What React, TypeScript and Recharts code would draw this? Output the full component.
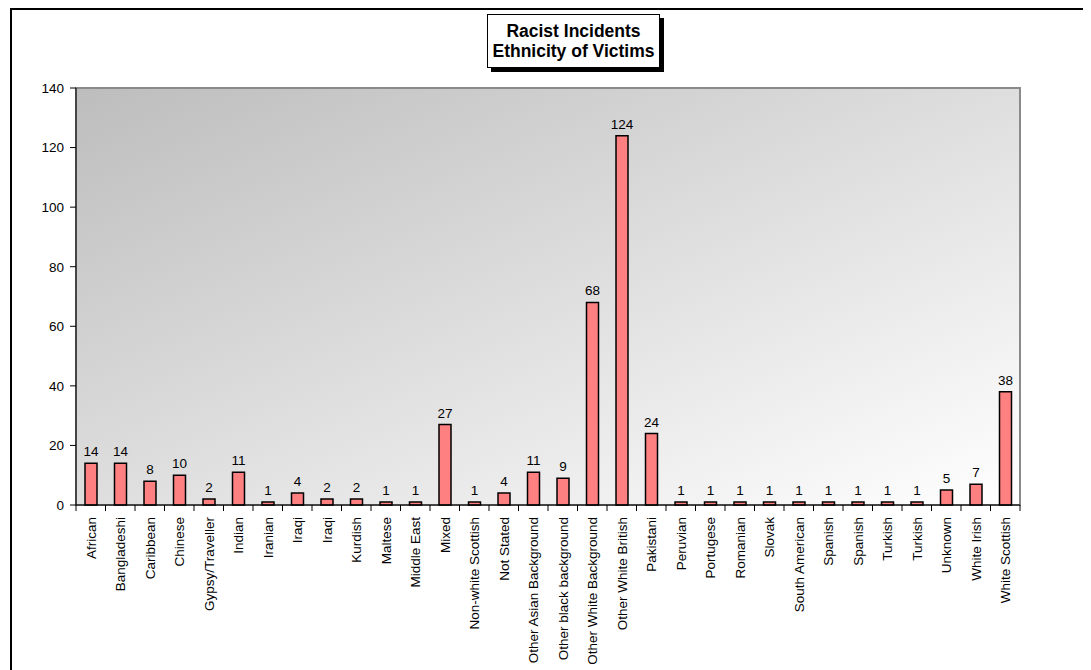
import { BarChart, Bar, XAxis, YAxis, CartesianGrid, LabelList, ReferenceArea } from 'recharts';

// Ethnicity categories (duplicates appear in the source table as-is)
const categories = [
  'African', 'Bangladeshi', 'Caribbean', 'Chinese', 'Gypsy/Traveller', 'Indian', 'Iranian', 'Iraqi',
  'Iraqi', 'Kurdish', 'Maltese', 'Middle East', 'Mixed', 'Non-white Scottish', 'Not Stated',
  'Other Asian Background', 'Other black background', 'Other White Background', 'Other White British',
  'Pakistani', 'Peruvian', 'Portugese', 'Romanian', 'Slovak', 'South American', 'Spanish', 'Spanish',
  'Turkish', 'Turkish', 'Unknown', 'White Irish', 'White Scottish',
];

const incidents = [
  14, 14, 8, 10, 2, 11, 1, 4, 2, 2, 1, 1, 27, 1, 4, 11, 9, 68, 124, 24, 1, 1, 1, 1, 1, 1, 1, 1, 1, 5, 7, 38,
];

const yTicks = [0, 20, 40, 60, 80, 100, 120, 140];

const data = categories.map((name, i) => ({ name, value: incidents[i] }));

const FONT = "Arial, 'Liberation Sans', sans-serif";
const FONT_SIZE = 13.5;
const CHART_W = 1083;
const CHART_H = 662;
const MARGIN = { top: 80, right: 71, left: 0, bottom: 0 };
const Y_AXIS_W = 68;
const PLOT_W = CHART_W - MARGIN.left - MARGIN.right - Y_AXIS_W;
const BAND = PLOT_W / categories.length;

// Excel-style category tick: marks sit between categories, label rotated
const CategoryTick = (props: any) => {
  const { x, y, payload, index } = props;
  const axisY = y - 6;
  const left = x - BAND / 2;
  const right = x + BAND / 2;
  const isLast = index === categories.length - 1;
  return (
    <g>
      <line x1={left} y1={axisY} x2={left} y2={axisY + 6} stroke="#000" strokeWidth={1} />
      {isLast && <line x1={right} y1={axisY} x2={right} y2={axisY + 6} stroke="#000" strokeWidth={1} />}
      <text
        transform={`translate(${x + 5}, ${axisY + 12}) rotate(-90)`}
        textAnchor="end"
        fontSize={FONT_SIZE}
        fontFamily={FONT}
        fill="#000"
      >
        {payload.value}
      </text>
    </g>
  );
};

export default function App() {
  return (
    <div style={{ position: 'relative', width: CHART_W, height: CHART_H, overflow: 'hidden', fontFamily: FONT }}>
      <div
        style={{
          position: 'absolute',
          left: 2,
          top: 0,
          width: 1200,
          height: 800,
          borderTop: '2px solid #000',
          borderLeft: '2px solid #000',
        }}
      />
      <BarChart width={CHART_W} height={CHART_H} data={data} margin={MARGIN} barSize={12}>
        <defs>
          <linearGradient id="plotBg" x1="0" y1="0" x2="1" y2="1">
            <stop offset="0%" stopColor="#bdbdbd" />
            <stop offset="100%" stopColor="#ffffff" />
          </linearGradient>
        </defs>
        <CartesianGrid horizontal={false} vertical={false} fill="url(#plotBg)" />
        <ReferenceArea y1={0} y2={140} fill="none" stroke="#8a8a8a" strokeWidth={2} ifOverflow="visible" />
        <XAxis
          dataKey="name"
          interval={0}
          height={165}
          tickLine={false}
          tickSize={6}
          tickMargin={0}
          axisLine={{ stroke: '#000', strokeWidth: 1 }}
          tick={<CategoryTick />}
        />
        <YAxis
          width={Y_AXIS_W}
          domain={[0, 140]}
          ticks={yTicks}
          interval={0}
          tickSize={6}
          tickMargin={6}
          axisLine={{ stroke: '#000', strokeWidth: 1 }}
          tickLine={{ stroke: '#000' }}
          tick={{ fontSize: FONT_SIZE, fontFamily: FONT, fill: '#000' }}
        />
        <Bar dataKey="value" fill="#ff8080" stroke="#000" strokeWidth={1.5} isAnimationActive={false}>
          <LabelList dataKey="value" position="top" offset={7} fontSize={FONT_SIZE} fontFamily={FONT} fill="#000" />
        </Bar>
      </BarChart>
      <div
        style={{
          position: 'absolute',
          left: 479,
          top: 6,
          width: 173,
          height: 54,
          border: '1px solid #000',
          boxShadow: '4px 4px 0 #000',
          background: '#fff',
          textAlign: 'center',
          fontWeight: 'bold',
          fontSize: 17.5,
          lineHeight: '20px',
          paddingTop: 6,
          boxSizing: 'border-box',
          whiteSpace: 'nowrap',
        }}
      >
        Racist Incidents
        <br />
        Ethnicity of Victims
      </div>
    </div>
  );
}
